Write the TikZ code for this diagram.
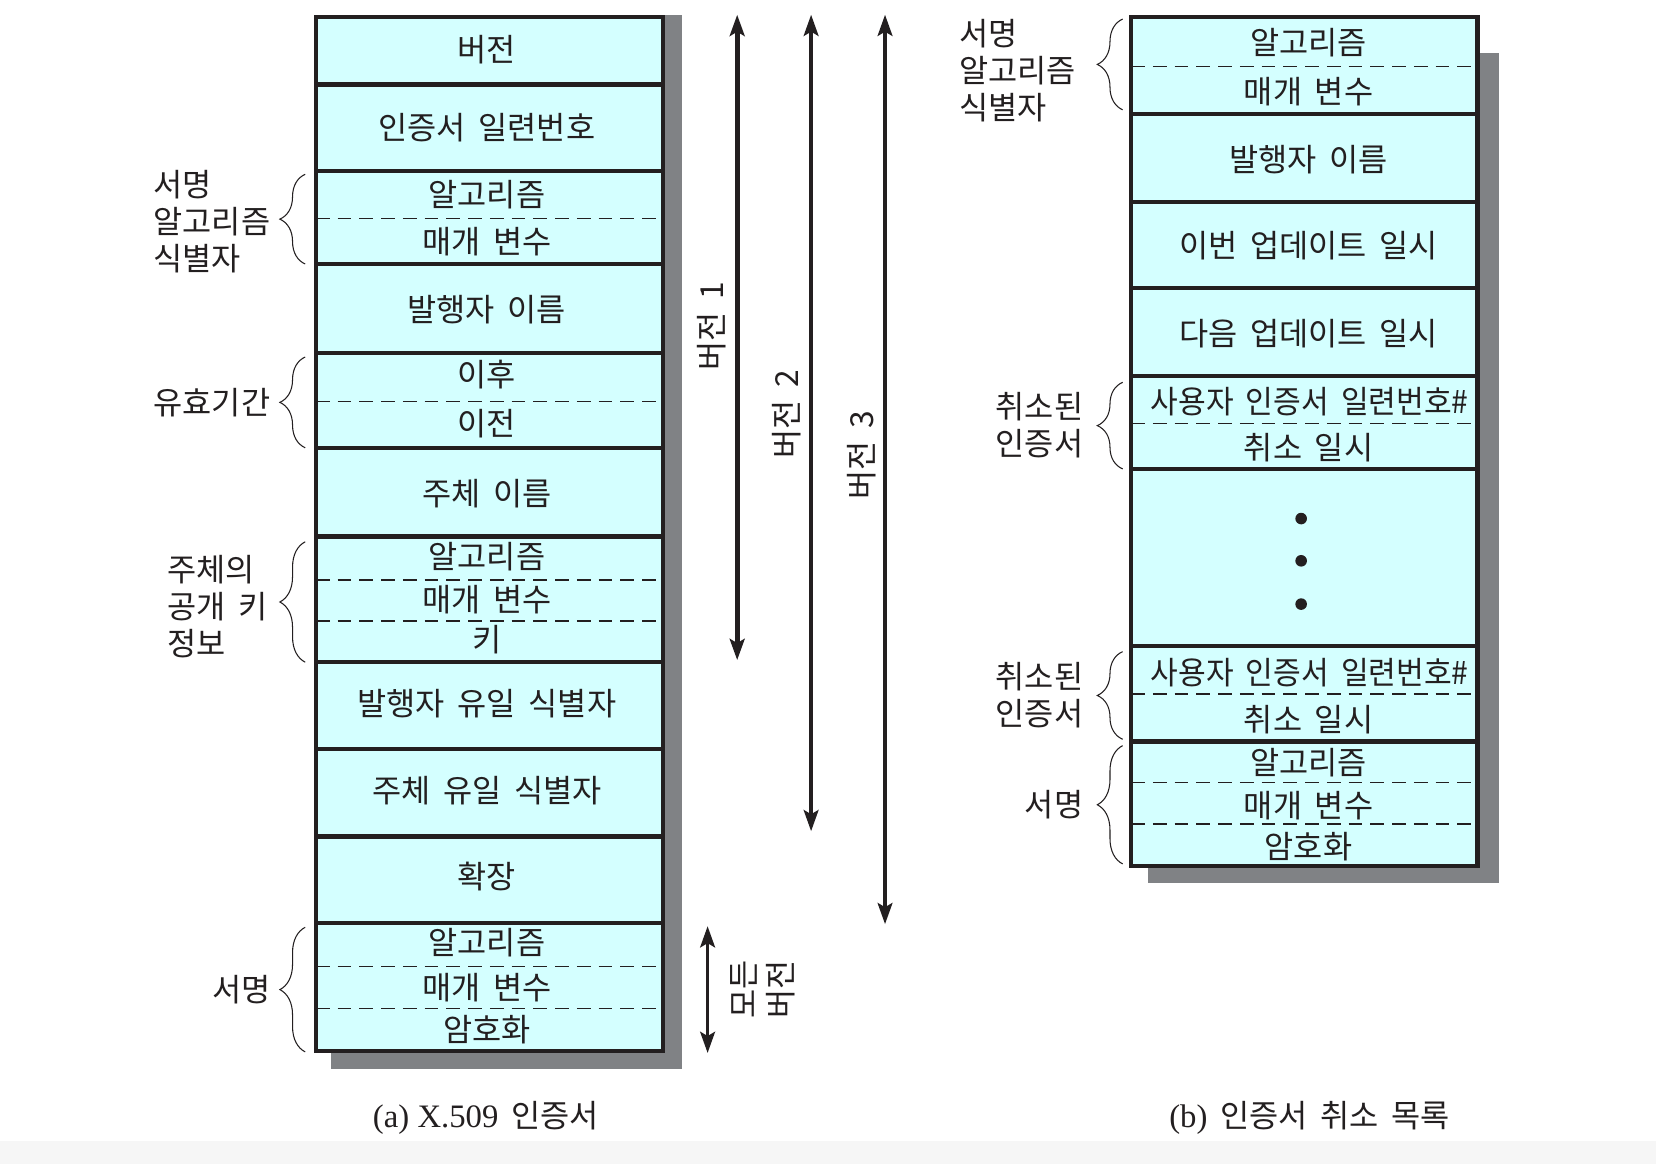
\documentclass[tikz,border=0pt]{standalone}
\usepackage{fontspec}
\usepackage{graphicx}
\setmainfont{Noto Sans CJK KR}[WordSpace=1.8]
\newfontfamily\latinserif{Liberation Serif}
\usetikzlibrary{decorations.pathreplacing,arrows.meta}
\definecolor{cellfill}{RGB}{212,255,255}
\definecolor{shadowgray}{RGB}{128,130,133}
\definecolor{ink}{RGB}{35,31,32}
\definecolor{bandgray}{RGB}{246,246,246}
\begin{document}
\begin{tikzpicture}[x=0.5pt,y=-0.5pt,
  field/.style={font=\fontsize{15}{17.5}\selectfont, text=ink, inner sep=0pt},
  lbl/.style={font=\fontsize{15}{17.5}\selectfont, text=ink, inner sep=0pt, align=left},
  lblr/.style={font=\fontsize{15}{17.5}\selectfont, text=ink, inner sep=0pt, align=right},
  frame/.style={draw=ink, line width=2pt, fill=cellfill},
  shade/.style={fill=shadowgray},
  solidsep/.style={draw=ink, line width=2pt},
  dashsep/.style={draw=ink, line width=0.7pt, dash pattern=on 6.5pt off 3.8pt},
  brc/.style={decorate, decoration={brace, amplitude=12pt}, draw=ink, line width=0.5pt},
  tipstyle/.style={{Stealth[length=10pt,width=7pt,inset=2pt]}-{Stealth[length=10pt,width=7pt,inset=2pt]}},
  verarrow/.style={draw=ink, line width=1.6pt, tipstyle},
  verlbl/.style={font=\fontsize{15}{17.5}\selectfont, text=ink, inner sep=0pt, rotate=90, align=center},
  captxt/.style={font=\fontsize{15}{17.5}\selectfont, text=ink, inner sep=0pt},
  dotnode/.style={circle, fill=ink, inner sep=0pt, minimum size=5.5pt},
]
\useasboundingbox (0,0) rectangle (1568,1102);
\fill[white] (0,0) rectangle (1568,1102);
\fill[bandgray] (0,1080) rectangle (1568,1102);

% ===== (a) X.509 certificate =====
\fill[shade] (313,14) rectangle (646,1012);
\path[frame] (299,16) rectangle (628,995);
\foreach \yy in {80,162,250,334,424,508,627,709,792,874}
  \draw[solidsep] (299,\yy) -- (628,\yy);
\foreach \yy in {207,380,549,588,915,955}
  \draw[dashsep] (299,\yy) -- (628,\yy);

\node[field] (a1) at (461,47) {버전};
\node[field] (a2) at (461,121) {인증서 일련번호};
\node[field] (a3) at (461,184) {알고리즘};
\node[field] (a4) at (461,229) {매개 변수};
\node[field] (a5) at (461,293) {발행자 이름};
\node[field] (a6) at (461,355) {이후};
\node[field] (a7) at (461,401) {이전};
\node[field] (a8) at (461,467) {주체 이름};
\node[field] (a9) at (461,527) {알고리즘};
\node[field] (a10) at (461,568) {매개 변수};
\node[field] (a11) at (461,606) {키};
\node[field] (a12) at (461,666) {발행자 유일 식별자};
\node[field] (a13) at (461,749) {주체 유일 식별자};
\node[field] (a14) at (461,830) {확장};
\node[field] (a15) at (461,893) {알고리즘};
\node[field] (a16) at (461,935) {매개 변수};
\node[field] (a17) at (461,975) {암호화};

% left labels and braces
\node[lbl, anchor=west] (la1) at (145,210) {서명\\알고리즘\\식별자};
\node[lbl, anchor=west] (la2) at (145,381) {유효기간};
\node[lbl, anchor=west] (la3) at (158,574) {주체의\\공개 키\\정보};
\node[lblr, anchor=east] (la4) at (257,937) {서명};

\coordinate (ba1b) at (289,250); \coordinate (ba1t) at (289,165);
\coordinate (ba2b) at (289,424); \coordinate (ba2t) at (289,338);
\coordinate (ba3b) at (289,627); \coordinate (ba3t) at (289,513);
\coordinate (ba4b) at (289,996); \coordinate (ba4t) at (289,878);
\draw[brc] (ba1b) -- (ba1t);
\draw[brc] (ba2b) -- (ba2t);
\draw[brc] (ba3b) -- (ba3t);
\draw[brc] (ba4b) -- (ba4t);

% version arrows
\coordinate (v1t) at (698,14);  \coordinate (v1b) at (698,625);
\coordinate (v2t) at (768,14);  \coordinate (v2b) at (768,787);
\coordinate (v3t) at (838,14);  \coordinate (v3b) at (838,875);
\coordinate (v4t) at (670,877); \coordinate (v4b) at (670,997);
\draw[verarrow, line width=2.3pt] (v1t) -- (v1b);
\draw[verarrow] (v2t) -- (v2b);
\draw[verarrow] (v3t) -- (v3b);
\draw[verarrow] (v4t) -- (v4b);
\node[verlbl] (vl1) at (674,309) {버전 1};
\node[verlbl] (vl2) at (745,392) {버전 2};
\node[verlbl] (vl3) at (816,431) {버전 3};
\node[verlbl] (vl4) at (722,937) {모든\\버전};

\node[captxt] (capa) at (460,1058) {{\latinserif\fontsize{15.5}{17.5}\selectfont (a)\ X.509}\ 인증서};

% ===== (b) CRL =====
\fill[shade] (1087,50) rectangle (1419,836);
\path[frame] (1071,16) rectangle (1399,820);
\foreach \yy in {108,191,273,356,444,612,702}
  \draw[solidsep] (1071,\yy) -- (1399,\yy);
\foreach \yy in {63,401,657,741,780}
  \draw[dashsep] (1071,\yy) -- (1399,\yy);

\node[field] (b1) at (1239,40) {알고리즘};
\node[field] (b2) at (1239,87) {매개 변수};
\node[field] (b3) at (1239,151) {발행자 이름};
\node[field] (b4) at (1239,233) {이번 업데이트 일시};
\node[field] (b5) at (1239,316) {다음 업데이트 일시};
\node[field] (b6) at (1240,380) {\scalebox{0.95}[1]{사용자 인증서 일련번호\#}};
\node[field] (b7) at (1239,424) {취소 일시};
\node[dotnode] (d1) at (1232,491) {};
\node[dotnode] (d2) at (1232,531) {};
\node[dotnode] (d3) at (1232,572) {};
\node[field] (b8) at (1240,637) {\scalebox{0.95}[1]{사용자 인증서 일련번호\#}};
\node[field] (b9) at (1239,681) {취소 일시};
\node[field] (b10) at (1239,722) {알고리즘};
\node[field] (b11) at (1239,763) {매개 변수};
\node[field] (b12) at (1239,802) {암호화};

\node[lbl, anchor=west] (lb1) at (908,67) {서명\\알고리즘\\식별자};
\node[lblr, anchor=east] (lb2) at (1026,403) {취소된\\인증서};
\node[lblr, anchor=east] (lb3) at (1026,658) {취소된\\인증서};
\node[lblr, anchor=east] (lb4) at (1026,762) {서명};

\coordinate (bb1b) at (1063,104); \coordinate (bb1t) at (1063,18);
\coordinate (bb2b) at (1063,444); \coordinate (bb2t) at (1063,362);
\coordinate (bb3b) at (1063,700); \coordinate (bb3t) at (1063,617);
\coordinate (bb4b) at (1063,818); \coordinate (bb4t) at (1063,706);
\draw[brc] (bb1b) -- (bb1t);
\draw[brc] (bb2b) -- (bb2t);
\draw[brc] (bb3b) -- (bb3t);
\draw[brc] (bb4b) -- (bb4t);

\node[captxt] (capb) at (1240,1058) {{\latinserif\fontsize{15.5}{17.5}\selectfont (b)}\ 인증서 취소 목록};
\end{tikzpicture}
\end{document}
